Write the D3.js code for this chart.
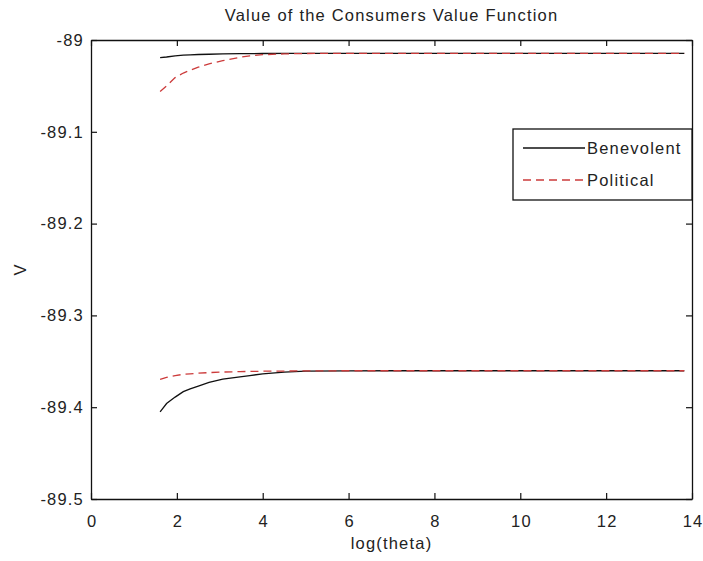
<!DOCTYPE html>
<html>
<head>
<meta charset="utf-8">
<script src="https://cdn.jsdelivr.net/npm/d3@7"></script>
<style>
  html, body { margin: 0; padding: 0; background: #fff; }
  svg { display: block; }
  text { font-family: "Liberation Sans", Arial, Helvetica, sans-serif; fill: #222; letter-spacing: 1.2px; }
</style>
</head>
<body>
<svg id="chart" width="703" height="561"></svg>
<script>
// log(theta) grid shared by all four series
const logTheta = [1.61, 1.76, 1.96, 2.15, 2.31, 2.5, 2.75, 3.07, 3.47, 3.7, 4.0, 4.5, 5, 6, 7, 8, 9, 10, 11, 12, 13, 13.82];

// upper branch
const benevolentHigh = [-89.0192, -89.0185, -89.0172, -89.0165, -89.0161, -89.0158, -89.0155, -89.0152, -89.0149, -89.0148, -89.0147, -89.0146, -89.0145, -89.0145, -89.0145, -89.0145, -89.0145, -89.0145, -89.0145, -89.0145, -89.0145, -89.0145];
const politicalHigh  = [-89.0560, -89.0500, -89.0410, -89.0360, -89.0330, -89.0295, -89.0260, -89.0225, -89.0188, -89.0172, -89.0160, -89.0151, -89.0147, -89.0145, -89.0145, -89.0145, -89.0145, -89.0145, -89.0145, -89.0145, -89.0145, -89.0145];

// lower branch
const benevolentLow = [-89.4050, -89.3960, -89.3890, -89.3830, -89.3800, -89.3770, -89.3730, -89.3695, -89.3670, -89.3655, -89.3637, -89.3618, -89.3608, -89.3604, -89.3603, -89.3603, -89.3603, -89.3603, -89.3603, -89.3603, -89.3603, -89.3603];
const politicalLow  = [-89.3697, -89.3675, -89.3655, -89.3642, -89.3636, -89.3630, -89.3623, -89.3617, -89.3612, -89.3610, -89.3608, -89.3606, -89.3604, -89.3603, -89.3603, -89.3603, -89.3603, -89.3603, -89.3603, -89.3603, -89.3603, -89.3603];

const xTicks = [0, 2, 4, 6, 8, 10, 12, 14];
const yTicks = [-89, -89.1, -89.2, -89.3, -89.4, -89.5];
const legendLabels = ["Benevolent", "Political"];

const titleText = "Value of the Consumers Value Function";
const xLabel = "log(theta)";
const yLabel = "V";

const svg = d3.select("#chart");
const W = 703, H = 561;
const m = { left: 91, right: W - 692, top: 40, bottom: H - 499 };

const x = d3.scaleLinear().domain([0, 14]).range([m.left, W - m.right]);
const y = d3.scaleLinear().domain([-89.5, -89]).range([H - m.bottom, m.top]);

const red = "#cc3b3b";
const dash = "8,5";

// axes (ticks pointing inward on all four sides)
const fontSize = 16.5;
const tickLen = 6;
const axB = svg.append("g").attr("transform", `translate(0,${H - m.bottom})`)
  .call(d3.axisBottom(x).tickValues(xTicks).tickFormat(d3.format("d")).tickSizeInner(-tickLen).tickSizeOuter(0).tickPadding(16));
const axT = svg.append("g").attr("transform", `translate(0,${m.top})`)
  .call(d3.axisTop(x).tickValues(xTicks).tickFormat("").tickSizeInner(-tickLen).tickSizeOuter(0));
const axL = svg.append("g").attr("transform", `translate(${m.left},0)`)
  .call(d3.axisLeft(y).tickValues(yTicks).tickFormat(d => String(d)).tickSizeInner(-tickLen).tickSizeOuter(0).tickPadding(7));
const axR = svg.append("g").attr("transform", `translate(${W - m.right},0)`)
  .call(d3.axisRight(y).tickValues(yTicks).tickFormat("").tickSizeInner(-tickLen).tickSizeOuter(0));

[axB, axT, axL, axR].forEach(g => {
  g.select(".domain").attr("stroke", "#111").attr("stroke-width", 1.3);
  g.selectAll(".tick line").attr("stroke", "#111").attr("stroke-width", 1.2);
  g.selectAll(".tick text").attr("font-size", fontSize).attr("fill", "#222")
    .attr("font-family", '"Liberation Sans", Arial, sans-serif');
});
axB.selectAll(".tick text").attr("dx", "0.6px");

// series
const line = d3.line().x((d, i) => x(logTheta[i])).y(d => y(d));
const plotG = svg.append("g");
plotG.append("path").datum(benevolentHigh).attr("d", line).attr("fill", "none").attr("stroke", "#111").attr("stroke-width", 1.3);
plotG.append("path").datum(politicalHigh).attr("d", line).attr("fill", "none").attr("stroke", red).attr("stroke-width", 1.3).attr("stroke-dasharray", dash);
plotG.append("path").datum(benevolentLow).attr("d", line).attr("fill", "none").attr("stroke", "#111").attr("stroke-width", 1.3);
plotG.append("path").datum(politicalLow).attr("d", line).attr("fill", "none").attr("stroke", red).attr("stroke-width", 1.3).attr("stroke-dasharray", dash);

// title and axis labels
svg.append("text").attr("x", (x(0) + x(14)) / 2).attr("y", 21).attr("text-anchor", "middle")
  .attr("font-size", fontSize).text(titleText);
svg.append("text").attr("x", (x(0) + x(14)) / 2).attr("y", 549).attr("text-anchor", "middle")
  .attr("font-size", fontSize).text(xLabel);
svg.append("text").attr("transform", `translate(26,${(y(-89) + y(-89.5)) / 2}) rotate(-90)`)
  .attr("text-anchor", "middle").attr("font-size", fontSize).text(yLabel);

// legend
const lg = svg.append("g");
lg.append("rect").attr("x", 513).attr("y", 129).attr("width", 692 - 513).attr("height", 71)
  .attr("fill", "#fff").attr("stroke", "#111").attr("stroke-width", 1.3);
const rows = [
  { label: legendLabels[0], color: "#111", dash: null, cy: 148 },
  { label: legendLabels[1], color: red, dash: dash, cy: 180 }
];
rows.forEach(r => {
  lg.append("line").attr("x1", 523).attr("x2", 585).attr("y1", r.cy).attr("y2", r.cy)
    .attr("stroke", r.color).attr("stroke-width", 1.3).attr("stroke-dasharray", r.dash);
  lg.append("text").attr("x", 587).attr("y", r.cy + 6).attr("font-size", fontSize).text(r.label);
});
</script>
</body>
</html>
